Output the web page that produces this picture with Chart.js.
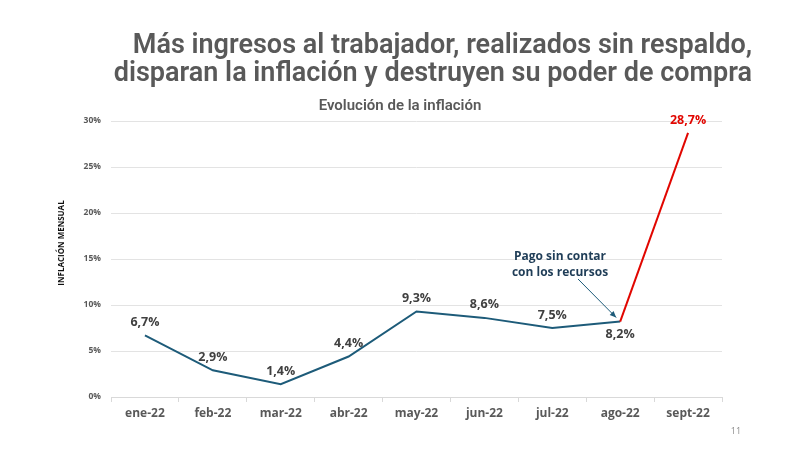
<!DOCTYPE html>
<html><head><meta charset="utf-8">
<script src="https://cdn.jsdelivr.net/npm/chart.js@4"></script>
<style>html,body{margin:0;padding:0;background:#fff;}#w{width:800px;height:450px;position:relative}</style>
</head><body><div id="w"><canvas id="c" width="800" height="450"></canvas></div>
<script>
const categories = ["ene-22","feb-22","mar-22","abr-22","may-22","jun-22","jul-22","ago-22","sept-22"];
const inflation = [6.7, 2.9, 1.4, 4.4, 9.3, 8.6, 7.5, 8.2, 28.7];
const valueLabels = ["6,7%","2,9%","1,4%","4,4%","9,3%","8,6%","7,5%","8,2%","28,7%"];
const labelBelow = [false,false,false,false,false,false,false,true,false];
const yTicks = [0,5,10,15,20,25,30];
const titleLines = ["Más ingresos al trabajador, realizados sin respaldo,","disparan la inflación y destruyen su poder de compra"];
const subtitle = "Evolución de la inflación";
const yAxisTitle = "INFLACIÓN MENSUAL";
const annotationLines = ["Pago sin contar","con los recursos"];
const annotationIndex = 7;
const pageNumber = "11";

const BLUE = "#1d5b79", RED = "#e10600", GRAY = "#595959";

const overlay = {
  id: 'overlay',
  afterDraw(chart) {
    const ctx = chart.ctx, xs = chart.scales.x, ys = chart.scales.y;
    ctx.save();
    // titles
    ctx.fillStyle = GRAY;
    ctx.textAlign = 'right'; ctx.textBaseline = 'alphabetic';
    ctx.font = '600 27px Roboto';
    ctx.fillText(titleLines[0], 752, 53);
    ctx.fillText(titleLines[1], 752, 81);
    ctx.textAlign = 'center';
    ctx.font = '600 15px Roboto';
    ctx.fillText(subtitle, 400, 110);
    // y axis title
    ctx.save();
    ctx.translate(62, 243);
    ctx.rotate(-Math.PI/2);
    ctx.fillStyle = '#111';
    ctx.font = 'bold 8px "Open Sans"';
    ctx.textBaseline = 'middle';
    ctx.fillText(yAxisTitle, 0, 0);
    ctx.restore();
    // value labels
    ctx.font = 'bold 12.5px "Open Sans"';
    ctx.textBaseline = 'middle';
    inflation.forEach((v, i) => {
      const x = xs.getPixelForValue(i), y = ys.getPixelForValue(v);
      ctx.fillStyle = i === inflation.length - 1 ? RED : '#404040';
      ctx.fillText(valueLabels[i], x, labelBelow[i] ? y + 13 : y - 13);
    });
    // annotation
    ctx.fillStyle = '#1f3d57';
    ctx.font = 'bold 12px "Open Sans"';
    ctx.fillText(annotationLines[0], 560, 257);
    ctx.fillText(annotationLines[1], 560, 273);
    const ax = xs.getPixelForValue(annotationIndex) - 4, ay = ys.getPixelForValue(inflation[annotationIndex]) - 4;
    const sx = 578, sy = 279;
    ctx.strokeStyle = BLUE; ctx.fillStyle = BLUE; ctx.lineWidth = 1;
    ctx.beginPath(); ctx.moveTo(sx, sy); ctx.lineTo(ax, ay); ctx.stroke();
    const ang = Math.atan2(ay - sy, ax - sx);
    ctx.beginPath();
    ctx.moveTo(ax, ay);
    ctx.lineTo(ax - 7*Math.cos(ang - 0.4), ay - 7*Math.sin(ang - 0.4));
    ctx.lineTo(ax - 7*Math.cos(ang + 0.4), ay - 7*Math.sin(ang + 0.4));
    ctx.closePath(); ctx.fill();
    // page number
    ctx.fillStyle = '#8c8c8c';
    ctx.font = '9px "Open Sans"';
    ctx.fillText(pageNumber, 736, 431);
    ctx.restore();
  }
};

new Chart(document.getElementById('c'), {
  type: 'line',
  data: {
    labels: categories,
    datasets: [{
      data: inflation,
      borderColor: BLUE,
      borderWidth: 2,
      pointRadius: 0,
      tension: 0,
      segment: { borderColor: c => c.p1DataIndex === inflation.length - 1 ? RED : BLUE }
    }]
  },
  options: {
    responsive: false,
    animation: false,
    layout: { padding: { left: 0, right: 78, top: 121, bottom: 0 } },
    plugins: { legend: { display: false }, tooltip: { enabled: false }, title: { display: false } },
    scales: {
      x: {
        offset: true,
        grid: { offset: true, drawOnChartArea: false, drawTicks: true, tickLength: 5, color: '#d9d9d9' },
        border: { color: '#d9d9d9' },
        ticks: { color: GRAY, font: { family: 'Open Sans', weight: 'bold', size: 12 }, padding: 4 },
        afterFit(s) { s.height = 53; }
      },
      y: {
        min: 0, max: 30,
        afterBuildTicks(s) { s.ticks = yTicks.map(v => ({ value: v })); },
        grid: { color: '#e3e3e3', drawTicks: false },
        border: { display: false },
        ticks: { color: GRAY, font: { family: 'Open Sans', weight: 'bold', size: 8.5 }, padding: 10, callback: v => v + '%' },
        afterFit(s) { s.width = 111; }
      }
    }
  },
  plugins: [overlay]
});
</script></body></html>
